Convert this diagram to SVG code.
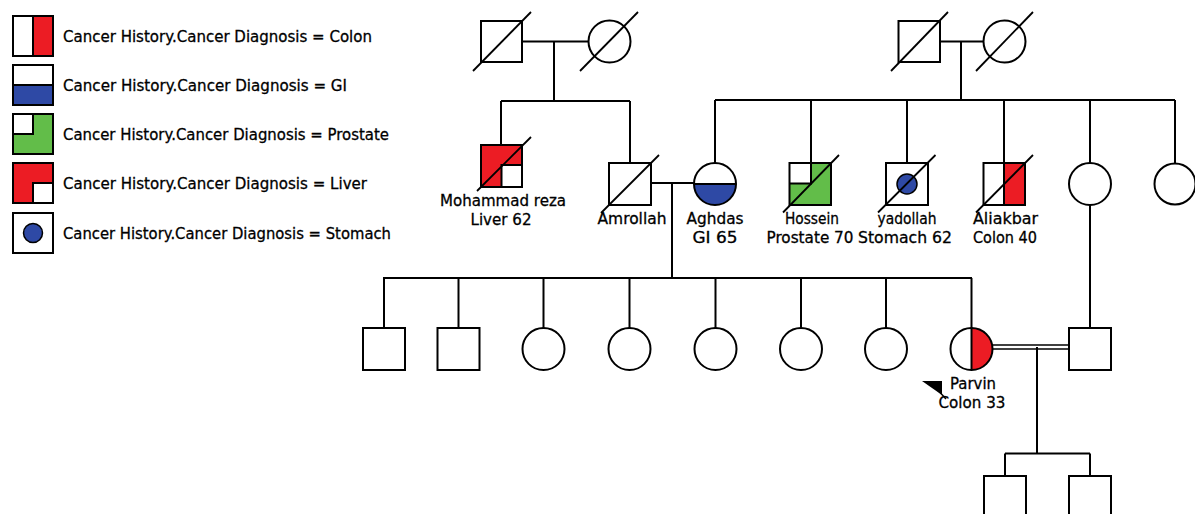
<svg xmlns="http://www.w3.org/2000/svg" width="1195" height="514" viewBox="0 0 1195 514">
<style>
.s{fill:#fff;stroke:#000;stroke-width:2}
.o{fill:none;stroke:#000;stroke-width:2}
.ln{fill:none;stroke:#000;stroke-width:2}
.d{stroke:#000;stroke-width:1.8;fill:none}
.red{fill:#ec1c24;stroke:none}
.blue{fill:#2e49a5;stroke:none}
.green{fill:#62bd49;stroke:none}
.t{font-family:"DejaVu Sans","Liberation Sans",sans-serif;font-size:15.5px;fill:#000;stroke:#000;stroke-width:0.3;text-anchor:middle}
.lg{font-family:"DejaVu Sans","Liberation Sans",sans-serif;font-size:15.5px;fill:#000;stroke:#000;stroke-width:0.3;text-anchor:start}
</style>
<rect width="1195" height="514" fill="#fff"/>

<g id="legend">
  <g id="legend-colon">
    <rect x="13" y="16" width="40" height="40" fill="#fff"/>
    <rect x="33" y="16" width="20" height="40" class="red"/>
    <rect x="13" y="16" width="40" height="40" class="o"/>
    <line x1="33" y1="16" x2="33" y2="56" class="ln"/>
    <text x="63" y="41.5" class="lg" textLength="309" lengthAdjust="spacingAndGlyphs">Cancer History.Cancer Diagnosis = Colon</text>
  </g>
  <g id="legend-gi">
    <rect x="13" y="65" width="40" height="40" fill="#fff"/>
    <rect x="13" y="85" width="40" height="20" class="blue"/>
    <rect x="13" y="65" width="40" height="40" class="o"/>
    <line x1="13" y1="85" x2="53" y2="85" class="ln"/>
    <text x="63" y="90.5" class="lg" textLength="284" lengthAdjust="spacingAndGlyphs">Cancer History.Cancer Diagnosis = GI</text>
  </g>
  <g id="legend-prostate">
    <rect x="13" y="114" width="40" height="40" class="green"/>
    <rect x="13" y="114" width="20" height="20" fill="#fff"/>
    <path d="M13 134H33V114" class="ln"/>
    <rect x="13" y="114" width="40" height="40" class="o"/>
    <text x="63" y="139.5" class="lg" textLength="326" lengthAdjust="spacingAndGlyphs">Cancer History.Cancer Diagnosis = Prostate</text>
  </g>
  <g id="legend-liver">
    <rect x="13" y="163" width="40" height="40" class="red"/>
    <rect x="33" y="183" width="20" height="20" fill="#fff"/>
    <path d="M33 203V183H53" class="ln"/>
    <rect x="13" y="163" width="40" height="40" class="o"/>
    <text x="63" y="188.5" class="lg" textLength="304" lengthAdjust="spacingAndGlyphs">Cancer History.Cancer Diagnosis = Liver</text>
  </g>
  <g id="legend-stomach">
    <rect x="13" y="213" width="40" height="40" class="s"/>
    <circle cx="33" cy="233" r="9.5" fill="#2e49a5" stroke="#000" stroke-width="1.5"/>
    <text x="63" y="238.5" class="lg" textLength="328" lengthAdjust="spacingAndGlyphs">Cancer History.Cancer Diagnosis = Stomach</text>
  </g>
</g>

<g id="connectors">
  <line x1="522" y1="41.5" x2="588.5" y2="41.5" class="ln"/>
  <line x1="554" y1="41.5" x2="554" y2="101" class="ln"/>
  <line x1="501" y1="101" x2="630" y2="101" class="ln"/>
  <line x1="501" y1="101" x2="501" y2="145" class="ln"/>
  <line x1="630" y1="101" x2="630" y2="163" class="ln"/>
  <line x1="940" y1="41.5" x2="984" y2="41.5" class="ln"/>
  <line x1="961" y1="41.5" x2="961" y2="100" class="ln"/>
  <line x1="715" y1="100" x2="1175" y2="100" class="ln"/>
  <line x1="715" y1="100" x2="715" y2="163" class="ln"/>
  <line x1="811" y1="100" x2="811" y2="163" class="ln"/>
  <line x1="907" y1="100" x2="907" y2="163" class="ln"/>
  <line x1="1004" y1="100" x2="1004" y2="163" class="ln"/>
  <line x1="1090" y1="100" x2="1090" y2="163" class="ln"/>
  <line x1="1175" y1="100" x2="1175" y2="163" class="ln"/>
  <line x1="651" y1="183" x2="694" y2="183" class="ln"/>
  <line x1="672" y1="183" x2="672" y2="278" class="ln"/>
  <line x1="383" y1="278" x2="972" y2="278" class="ln"/>
  <line x1="384" y1="278" x2="384" y2="328" class="ln"/>
  <line x1="458.5" y1="278" x2="458.5" y2="328" class="ln"/>
  <line x1="543.5" y1="278" x2="543.5" y2="328" class="ln"/>
  <line x1="629.5" y1="278" x2="629.5" y2="328" class="ln"/>
  <line x1="715.5" y1="278" x2="715.5" y2="328" class="ln"/>
  <line x1="801" y1="278" x2="801" y2="328" class="ln"/>
  <line x1="886" y1="278" x2="886" y2="328" class="ln"/>
  <line x1="971.5" y1="278" x2="971.5" y2="328" class="ln"/>
  <line x1="1090" y1="205" x2="1090" y2="328" class="ln"/>
  <line x1="992.5" y1="345" x2="1069" y2="345" stroke="#000" stroke-width="1.6"/>
  <line x1="992.5" y1="349" x2="1069" y2="349" stroke="#000" stroke-width="1.6"/>
  <line x1="1037" y1="347" x2="1037" y2="453.5" class="ln"/>
  <line x1="1005" y1="453.5" x2="1090" y2="453.5" class="ln"/>
  <line x1="1005" y1="453.5" x2="1005" y2="476" class="ln"/>
  <line x1="1090" y1="453.5" x2="1090" y2="476" class="ln"/>
</g>

<g id="gen1-left-father">
  <rect x="481" y="21" width="41" height="41" class="s"/>
  <line x1="473" y1="71" x2="531" y2="12" class="d"/>
</g>
<g id="gen1-left-mother">
  <circle cx="609.5" cy="41.5" r="21" class="s"/>
  <line x1="580" y1="71" x2="638" y2="12" class="d"/>
</g>
<g id="gen1-right-father">
  <rect x="898.5" y="21" width="41.5" height="41" class="s"/>
  <line x1="891" y1="71" x2="948" y2="12" class="d"/>
</g>
<g id="gen1-right-mother">
  <circle cx="1004.5" cy="41.5" r="21" class="s"/>
  <line x1="976" y1="71" x2="1033" y2="12" class="d"/>
</g>

<g id="mohammad-reza">
  <rect x="481" y="145" width="41" height="42" class="red"/>
  <rect x="501.5" y="165" width="20.5" height="22" fill="#fff"/>
  <path d="M501.5 187V165H522" class="ln"/>
  <rect x="481" y="145" width="41" height="42" class="o"/>
  <line x1="477" y1="191" x2="531" y2="137" class="d"/>
  <text x="503" y="205.5" class="t" textLength="126" lengthAdjust="spacingAndGlyphs">Mohammad reza</text>
  <text x="501" y="224.5" class="t" textLength="61" lengthAdjust="spacingAndGlyphs">Liver 62</text>
</g>

<g id="amrollah">
  <rect x="609" y="163" width="42" height="42" class="s"/>
  <line x1="601" y1="213" x2="659" y2="155" class="d"/>
  <text x="632" y="223.5" class="t" textLength="69" lengthAdjust="spacingAndGlyphs">Amrollah</text>
</g>

<g id="aghdas">
  <circle cx="715" cy="184" r="21" fill="#fff"/>
  <path d="M694 184A21 21 0 0 0 736 184Z" class="blue"/>
  <line x1="694" y1="184" x2="736" y2="184" class="ln"/>
  <circle cx="715" cy="184" r="21" class="o"/>
  <text x="715" y="223.5" class="t" textLength="57" lengthAdjust="spacingAndGlyphs">Aghdas</text>
  <text x="715" y="243" class="t" textLength="45" lengthAdjust="spacingAndGlyphs">GI 65</text>
</g>

<g id="hossein">
  <rect x="789.5" y="163" width="41.5" height="42" class="green"/>
  <rect x="789.5" y="163" width="21.5" height="20.5" fill="#fff"/>
  <path d="M789.5 183.5H811V163" class="ln"/>
  <rect x="789.5" y="163" width="41.5" height="42" class="o"/>
  <line x1="783" y1="212.5" x2="839" y2="155" class="d"/>
  <text x="812" y="223.5" class="t" textLength="54" lengthAdjust="spacingAndGlyphs">Hossein</text>
  <text x="810" y="243" class="t" textLength="87" lengthAdjust="spacingAndGlyphs">Prostate 70</text>
</g>

<g id="yadollah">
  <rect x="886" y="163" width="42" height="42" class="s"/>
  <circle cx="907" cy="184" r="10" fill="#2e49a5" stroke="#000" stroke-width="1.5"/>
  <line x1="878" y1="212.5" x2="935.5" y2="155" class="d"/>
  <text x="907" y="223.5" class="t" textLength="59" lengthAdjust="spacingAndGlyphs">yadollah</text>
  <text x="905" y="243" class="t" textLength="94" lengthAdjust="spacingAndGlyphs">Stomach 62</text>
</g>

<g id="aliakbar">
  <rect x="983.5" y="163" width="41.5" height="42" fill="#fff"/>
  <rect x="1004" y="163" width="21" height="42" class="red"/>
  <line x1="1004" y1="163" x2="1004" y2="205" class="ln"/>
  <rect x="983.5" y="163" width="41.5" height="42" class="o"/>
  <line x1="976" y1="212.5" x2="1033" y2="155" class="d"/>
  <text x="1005.5" y="223.5" class="t" textLength="65" lengthAdjust="spacingAndGlyphs">Aliakbar</text>
  <text x="1005" y="243" class="t" textLength="64" lengthAdjust="spacingAndGlyphs">Colon 40</text>
</g>

<g id="aunt-1">
  <circle cx="1090" cy="184" r="21" class="s"/>
</g>
<g id="aunt-2">
  <circle cx="1175" cy="184" r="20.5" class="s"/>
</g>

<g id="child-1"><rect x="363" y="328" width="42" height="42" class="s"/></g>
<g id="child-2"><rect x="437.5" y="328" width="42" height="42" class="s"/></g>
<g id="child-3"><circle cx="543.5" cy="349" r="21" class="s"/></g>
<g id="child-4"><circle cx="629.5" cy="349" r="21" class="s"/></g>
<g id="child-5"><circle cx="715.5" cy="349" r="21" class="s"/></g>
<g id="child-6"><circle cx="801" cy="349" r="21" class="s"/></g>
<g id="child-7"><circle cx="886" cy="349" r="21" class="s"/></g>

<g id="parvin">
  <circle cx="971.5" cy="349" r="21" fill="#fff"/>
  <path d="M971.5 328A21 21 0 0 1 971.5 370Z" class="red"/>
  <line x1="971.5" y1="328" x2="971.5" y2="370" class="ln"/>
  <circle cx="971.5" cy="349" r="21" class="o"/>
  <polygon points="922,381 942,381 942,395" fill="#000"/>
  <line x1="936" y1="388" x2="946" y2="399" stroke="#000" stroke-width="1.5"/>
  <text x="973" y="388.5" class="t" textLength="46" lengthAdjust="spacingAndGlyphs">Parvin</text>
  <text x="972" y="407.5" class="t" textLength="67" lengthAdjust="spacingAndGlyphs">Colon 33</text>
</g>

<g id="parvin-spouse"><rect x="1069" y="328" width="42" height="42" class="s"/></g>

<g id="grandchild-1"><rect x="984" y="476" width="42" height="42" class="s"/></g>
<g id="grandchild-2"><rect x="1069" y="476" width="42" height="42" class="s"/></g>
</svg>
